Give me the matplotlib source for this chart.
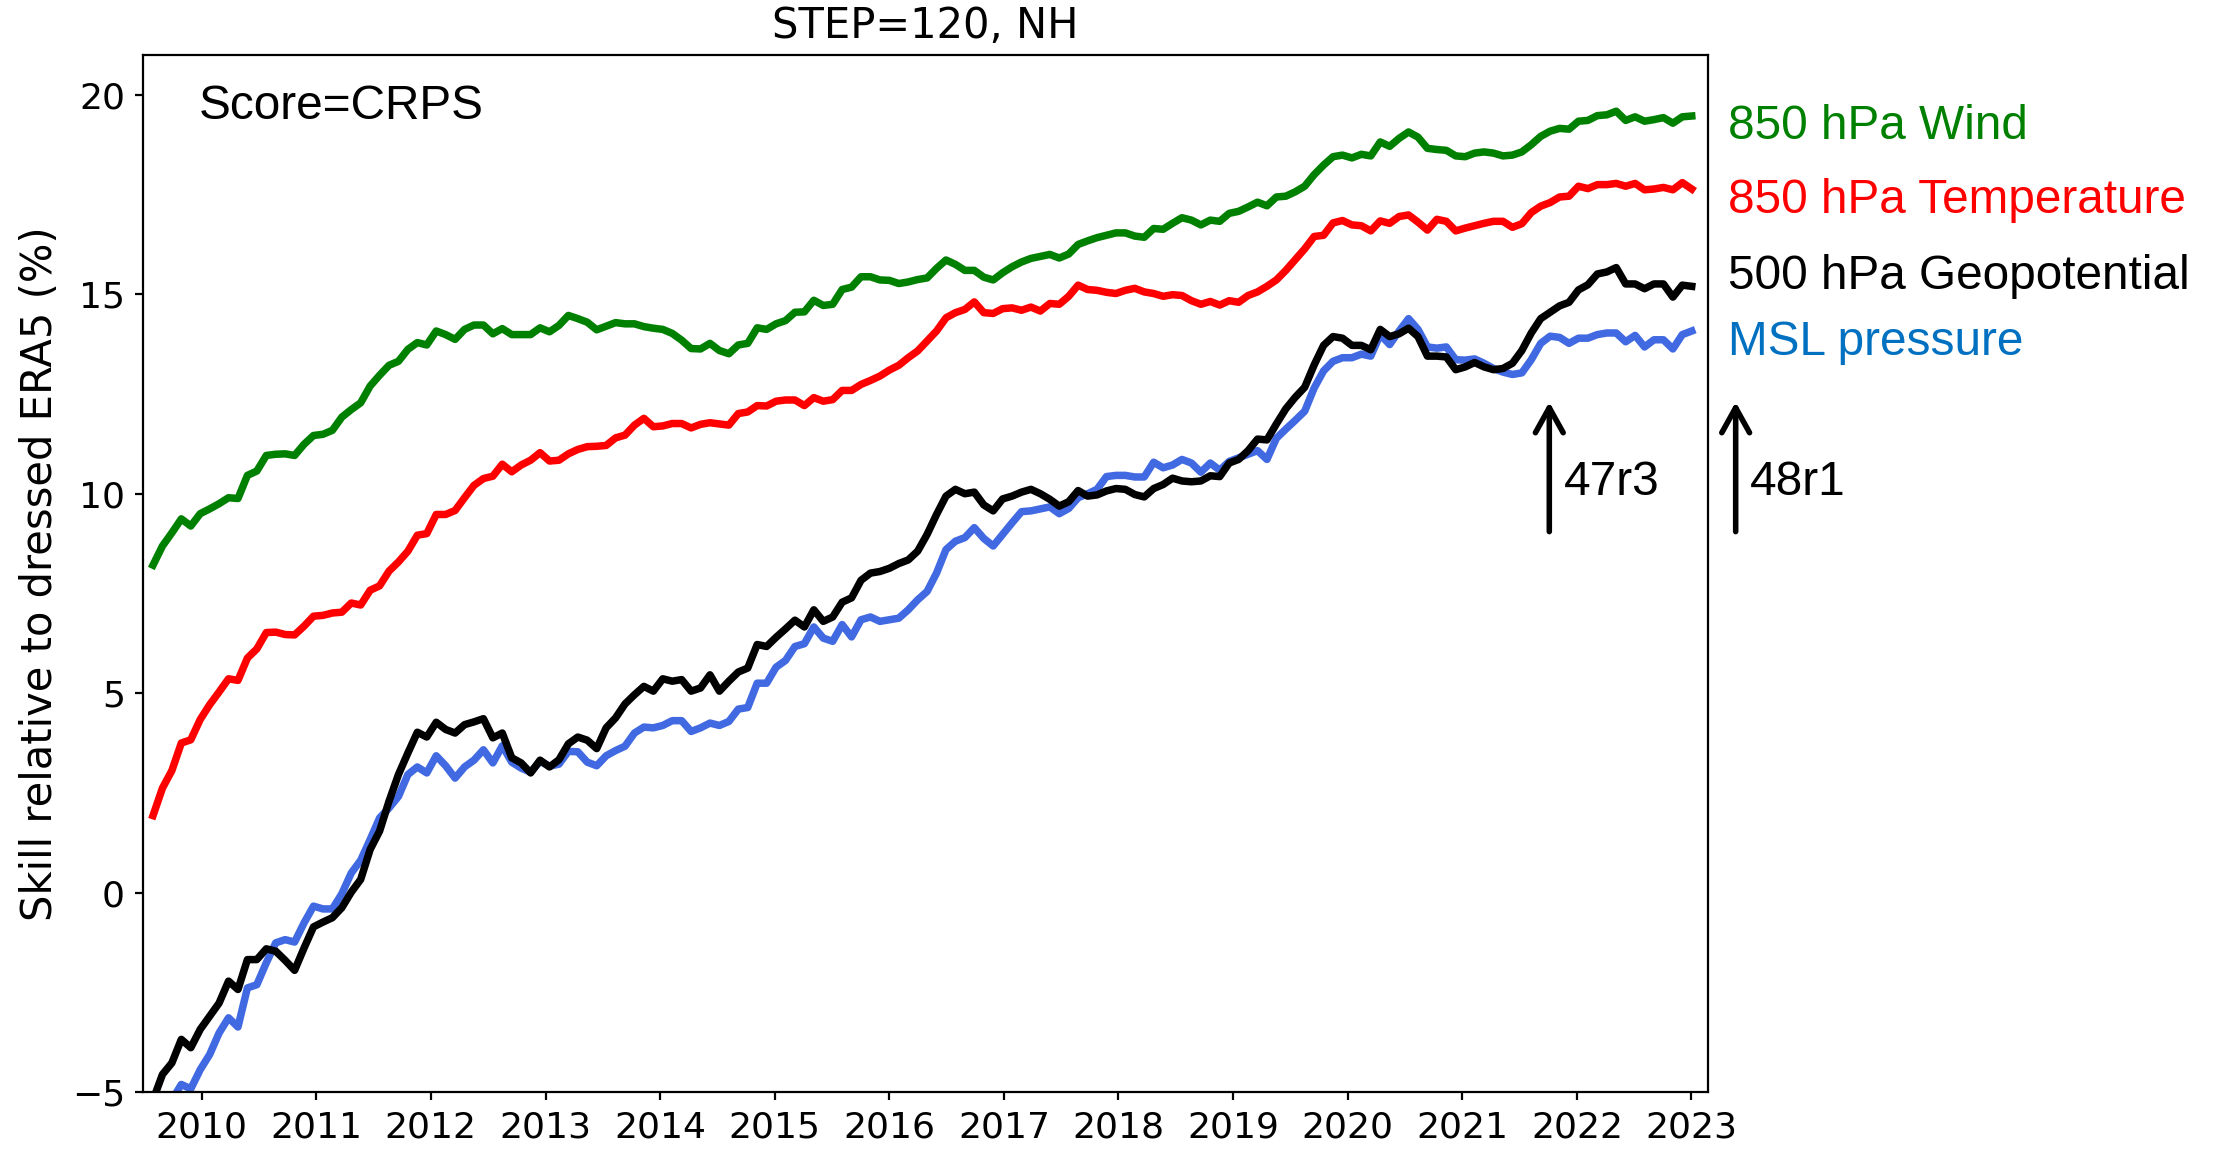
import datetime as dt
import matplotlib
matplotlib.use("Agg")
import matplotlib.pyplot as plt
import matplotlib.dates as mdates
import pandas as pd

# Running CRPS skill vs dressed ERA5, 30-day steps, STEP=120, NH
n_points = 164
dates = pd.date_range("2009-07-30", "2023-01-02", periods=n_points)

wind_850 = [
    8.21, 8.69, 9.02, 9.37, 9.19, 9.50, 9.62, 9.75, 9.90, 9.88,
    10.46, 10.57, 10.96, 10.99, 11.00, 10.96, 11.24, 11.46, 11.49, 11.59,
    11.92, 12.11, 12.28, 12.70, 12.97, 13.22, 13.32, 13.62, 13.79, 13.73,
    14.08, 13.99, 13.87, 14.12, 14.23, 14.23, 14.01, 14.14, 13.99, 13.99,
    13.99, 14.16, 14.06, 14.22, 14.47, 14.39, 14.30, 14.11, 14.20, 14.29,
    14.26, 14.26, 14.19, 14.15, 14.12,
    14.02, 13.85, 13.64, 13.63, 13.77, 13.59, 13.51, 13.73, 13.77, 14.16,
    14.12, 14.26, 14.34, 14.55, 14.56, 14.85, 14.72, 14.75, 15.12, 15.18,
    15.44, 15.44, 15.36, 15.35, 15.27, 15.31, 15.37, 15.41, 15.65, 15.86,
    15.75, 15.60, 15.60, 15.43, 15.36, 15.54, 15.69, 15.81, 15.90, 15.95,
    16.00, 15.91, 16.01, 16.25, 16.34, 16.42, 16.48, 16.54, 16.54, 16.46,
    16.43, 16.65, 16.63,
    16.78, 16.92, 16.86, 16.74, 16.86, 16.83, 17.03, 17.08, 17.19, 17.31,
    17.22, 17.44, 17.46, 17.57, 17.71, 18.00, 18.24, 18.45, 18.49, 18.42,
    18.51, 18.47, 18.82, 18.71, 18.91, 19.07, 18.94, 18.66, 18.63, 18.61,
    18.47, 18.45, 18.54, 18.57, 18.54, 18.47, 18.49, 18.57, 18.75, 18.96,
    19.09, 19.16, 19.14, 19.34, 19.36, 19.48, 19.50, 19.59, 19.36, 19.45,
    19.34, 19.38, 19.43, 19.29, 19.45, 19.47,
]

temp_850 = [
    1.93, 2.62, 3.06, 3.75, 3.83, 4.34, 4.71, 5.03, 5.36, 5.32,
    5.88, 6.11, 6.52, 6.53, 6.47, 6.46, 6.68, 6.93, 6.95, 7.01,
    7.03, 7.26, 7.21, 7.58, 7.69,
    8.06, 8.29, 8.56, 8.96, 9.00, 9.48, 9.48, 9.58, 9.90, 10.21,
    10.38, 10.44, 10.74, 10.55, 10.72, 10.84, 11.03, 10.82, 10.84, 11.00,
    11.11, 11.18, 11.19, 11.21, 11.40, 11.47, 11.72, 11.89, 11.68, 11.70,
    11.76, 11.76, 11.65, 11.74, 11.78, 11.75, 11.72, 12.01, 12.05, 12.21,
    12.20, 12.32, 12.35, 12.35, 12.21, 12.41, 12.32, 12.36, 12.59, 12.59,
    12.74, 12.84, 12.95, 13.10, 13.22, 13.41, 13.58, 13.83, 14.08, 14.41,
    14.54, 14.62, 14.81, 14.54, 14.52, 14.64, 14.66, 14.60, 14.68, 14.58,
    14.77, 14.75, 14.95, 15.23, 15.12, 15.10, 15.05, 15.02, 15.10, 15.15,
    15.06, 15.02, 14.95,
    14.99, 14.97, 14.84, 14.75, 14.82, 14.73, 14.84, 14.80, 14.97, 15.06,
    15.20, 15.36, 15.60, 15.87, 16.14, 16.45, 16.48, 16.79, 16.85, 16.74,
    16.72, 16.59, 16.84, 16.78, 16.95, 16.99, 16.81, 16.61, 16.88, 16.83,
    16.59, 16.66, 16.72, 16.78, 16.83, 16.83, 16.68, 16.77, 17.05, 17.21,
    17.30, 17.44, 17.46, 17.71, 17.65, 17.75, 17.75, 17.78, 17.71, 17.78,
    17.62, 17.64, 17.68, 17.62, 17.80, 17.64,
]

geopot_500 = [
    -5.20, -4.56, -4.27, -3.68, -3.89, -3.43, -3.10, -2.77, -2.22, -2.43,
    -1.68, -1.68, -1.41, -1.47, -1.70, -1.95, -1.39, -0.86, -0.74, -0.63,
    -0.38, 0.01, 0.33, 1.08, 1.54, 2.29, 2.96, 3.50, 4.02, 3.90,
    4.27, 4.09, 4.00, 4.21, 4.28, 4.36, 3.88, 4.00, 3.38, 3.25,
    3.00, 3.32, 3.15, 3.33, 3.73, 3.90, 3.82, 3.61, 4.13, 4.38,
    4.73, 4.96, 5.17, 5.05, 5.36,
    5.30, 5.34, 5.05, 5.13, 5.46, 5.05, 5.30, 5.53, 5.63, 6.22,
    6.17, 6.40, 6.61, 6.83, 6.66, 7.09, 6.80, 6.91, 7.28, 7.39,
    7.83, 8.01,
    8.05, 8.13, 8.25, 8.34, 8.56, 8.98, 9.48, 9.94, 10.11, 10.00,
    10.04, 9.72, 9.57, 9.87, 9.94, 10.04, 10.11, 10.00, 9.86, 9.69,
    9.80, 10.08, 9.94, 9.97, 10.07, 10.13, 10.11, 9.98, 9.92, 10.13,
    10.23,
    10.39, 10.32, 10.30, 10.32, 10.45, 10.43, 10.77, 10.86, 11.08, 11.37,
    11.35, 11.75, 12.13, 12.42, 12.67, 13.23, 13.72, 13.94, 13.90, 13.72,
    13.72, 13.61, 14.12, 13.94, 14.01, 14.15, 13.94, 13.45, 13.45, 13.43,
    13.11, 13.18, 13.29, 13.18, 13.11, 13.14, 13.27, 13.59, 14.03, 14.39,
    14.55, 14.71, 14.80, 15.11, 15.24, 15.51, 15.56, 15.67, 15.26, 15.26,
    15.14, 15.26, 15.26, 14.93, 15.23, 15.20,
]

msl = [
    -6.00, -5.60, -5.20,
    -4.81, -4.92, -4.44, -4.06, -3.52, -3.14, -3.37, -2.39, -2.31, -1.76,
    -1.26, -1.18, -1.24, -0.76, -0.34, -0.41, -0.41, -0.03, 0.49, 0.81,
    1.33, 1.87, 2.12, 2.41, 2.96, 3.15, 3.00, 3.43, 3.18, 2.87,
    3.15, 3.32, 3.58, 3.25, 3.68, 3.27, 3.12, 3.02, 3.29, 3.17,
    3.22, 3.54, 3.53, 3.27, 3.18, 3.43, 3.56, 3.67, 4.00, 4.15,
    4.13, 4.19,
    4.31, 4.31, 4.04, 4.13, 4.25, 4.19, 4.29, 4.60, 4.64, 5.25,
    5.25, 5.65, 5.82, 6.17, 6.24, 6.66, 6.38, 6.30, 6.72, 6.41,
    6.84, 6.91, 6.80, 6.84, 6.88, 7.09, 7.34, 7.55, 8.01,
    8.60, 8.81, 8.90, 9.15, 8.88, 8.69, 8.98, 9.27, 9.55, 9.57,
    9.62, 9.67, 9.50, 9.63, 9.90, 10.00, 10.11, 10.43, 10.46, 10.46,
    10.42, 10.42, 10.79, 10.65,
    10.72, 10.86, 10.77, 10.54, 10.77, 10.59, 10.81, 10.90, 10.99, 11.08,
    10.86, 11.39, 11.62, 11.84, 12.07, 12.65, 13.08, 13.32, 13.41, 13.41,
    13.50, 13.45, 13.99, 13.74, 14.08, 14.39, 14.12, 13.68, 13.65, 13.68,
    13.36, 13.35, 13.38, 13.27, 13.14, 13.05, 12.99, 13.03, 13.36, 13.77,
    13.95, 13.92, 13.77, 13.90, 13.90, 13.99, 14.03, 14.03, 13.81, 13.97,
    13.68, 13.86, 13.86, 13.63, 13.99, 14.08,
]

labels = ["850 hPa Wind", "850 hPa Temperature", "500 hPa Geopotential", "MSL pressure"]
label_colors = ["green", "red", "black", "#0070C0"]
label_y = [0.9187, 0.8479, 0.7741, 0.7107]     # axes fraction, text baselines

cycles = ["47r3", "48r1"]
cycle_dates = [dt.datetime(2021, 10, 5), dt.datetime(2023, 5, 22)]

lw = 2.7
fig = plt.figure(figsize=(11.1, 5.765), dpi=200)
ax = fig.add_axes([0.0644, 0.0529, 0.7050, 0.8994])

ax.plot(dates, wind_850, color="green", lw=lw)
ax.plot(dates, temp_850, color="red", lw=lw)
ax.plot(dates, msl, color="royalblue", lw=lw)
ax.plot(dates, geopot_500, color="black", lw=lw)

ax.set_xlim(dt.datetime(2009, 6, 28), dt.datetime(2023, 2, 23))
ax.set_ylim(-5, 21)
ax.set_yticks([-5, 0, 5, 10, 15, 20])
ax.xaxis.set_major_locator(mdates.YearLocator())
ax.xaxis.set_major_formatter(mdates.DateFormatter("%Y"))
ax.tick_params(labelsize=13, length=3)

ax.set_title("STEP=120, NH", fontsize=15)
ax.set_ylabel("Skill relative to dressed ERA5 (%)", fontsize=15)

ax.text(0.0358, 0.938, "Score=CRPS", transform=ax.transAxes, fontsize=17.2,
        family="Liberation Sans", va="baseline")

# labels of the curves, right of the frame
for lab, col, yy in zip(labels, label_colors, label_y):
    ax.text(1.013, yy, lab, transform=ax.transAxes, fontsize=17.2, color=col,
            family="Liberation Sans", va="baseline", clip_on=False)

# model cycle arrows
for cyc, cdate in zip(cycles, cycle_dates):
    ax.annotate("", xy=(cdate, 12.3), xytext=(cdate, 9.05), annotation_clip=False,
                arrowprops=dict(arrowstyle="->,head_length=0.45,head_width=0.25",
                                lw=2.0, color="black", shrinkA=0, shrinkB=0,
                                mutation_scale=20))
    ax.text(cdate + dt.timedelta(days=46), 9.96, cyc, fontsize=17.2,
            family="Liberation Sans", va="baseline", clip_on=False)

plt.savefig("out.png", dpi=200)
